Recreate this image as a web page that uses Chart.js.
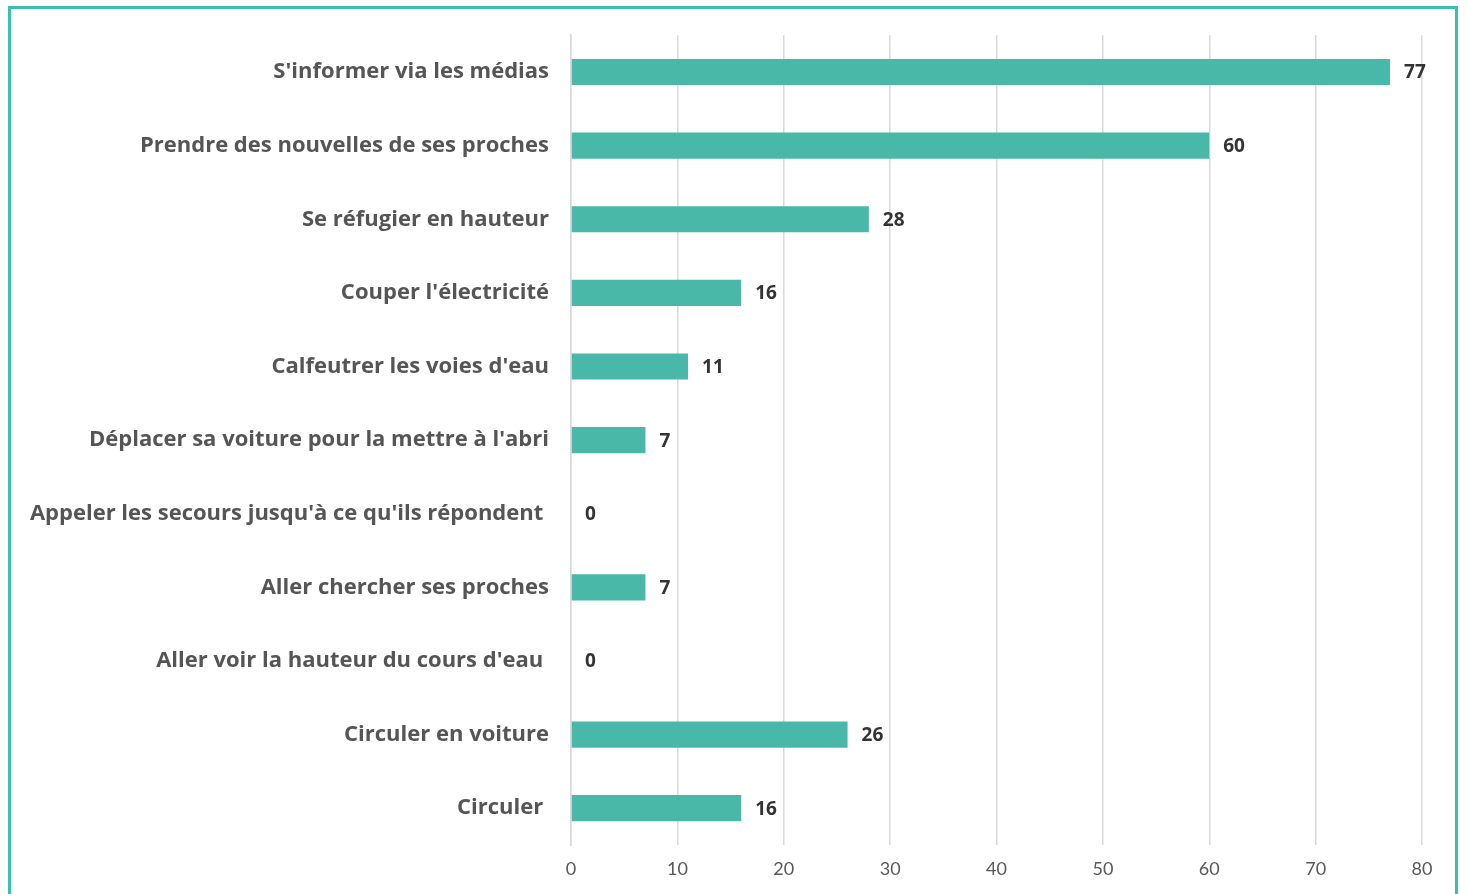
<!DOCTYPE html>
<html>
<head>
<meta charset="utf-8">
<script src="https://cdn.jsdelivr.net/npm/chart.js@4"></script>
<style>
  html, body { margin: 0; padding: 0; background: #ffffff; overflow: hidden; }
  #wrap { position: absolute; left: 0; top: 0; width: 1467px; height: 894px; }
  #frame { position: absolute; left: 8px; top: 6px; width: 1450px; height: 900px;
           border: 3px solid #3dbfad; pointer-events: none; box-sizing: border-box; }
  canvas { position: absolute; left: 0; top: 0; }
</style>
</head>
<body>
<div id="wrap">
  <canvas id="c" width="1467" height="894"></canvas>
  <div id="frame"></div>
</div>
<script>
const categories = [
  "S'informer via les médias",
  "Prendre des nouvelles de ses proches",
  "Se réfugier en hauteur",
  "Couper l'électricité",
  "Calfeutrer les voies d'eau",
  "Déplacer sa voiture pour la mettre à l'abri",
  "Appeler les secours jusqu'à ce qu'ils répondent ",
  "Aller chercher ses proches",
  "Aller voir la hauteur du cours d'eau ",
  "Circuler en voiture",
  "Circuler "
];
const values = [77, 60, 28, 16, 11, 7, 0, 7, 0, 26, 16];
const xTicks = [0, 10, 20, 30, 40, 50, 60, 70, 80];

const valueLabels = {
  id: 'valueLabels',
  afterDatasetsDraw(chart) {
    const ctx = chart.ctx;
    const meta = chart.getDatasetMeta(0);
    ctx.save();
    ctx.font = 'bold 19px "Open Sans"';
    ctx.fillStyle = '#333333';
    ctx.textAlign = 'left';
    ctx.textBaseline = 'middle';
    meta.data.forEach((bar, i) => {
      ctx.fillText(String(values[i]), bar.x + 14, bar.y + 1);
    });
    ctx.restore();
  }
};

new Chart(document.getElementById('c'), {
  type: 'bar',
  data: {
    labels: categories,
    datasets: [{
      data: values,
      backgroundColor: '#4ab8a9',
      borderWidth: 0,
      categoryPercentage: 1.0,
      barPercentage: 0.355
    }]
  },
  options: {
    indexAxis: 'y',
    responsive: false,
    animation: false,
    events: [],
    layout: { padding: { top: 33, right: 45, left: 0, bottom: 0 } },
    plugins: { legend: { display: false }, tooltip: { enabled: false } },
    scales: {
      x: {
        min: 0, max: 80,
        afterBuildTicks(scale) { scale.ticks = xTicks.map(v => ({ value: v })); },
        afterFit(scale) { scale.height = 49; },
        grid: { color: '#d9d9d9', lineWidth: 1.5, drawTicks: false },
        border: { display: false },
        ticks: { color: '#595959', font: { family: 'Lato', size: 18 }, padding: 13 }
      },
      y: {
        afterFit(scale) { scale.width = 571; },
        grid: { display: false, drawTicks: false },
        border: { display: true, color: '#d9d9d9', width: 1.5 },
        ticks: { color: '#555555', font: { family: '"Open Sans"', size: 22, weight: 'bold' }, padding: 22 }
      }
    }
  },
  plugins: [valueLabels]
});
</script>
</body>
</html>
